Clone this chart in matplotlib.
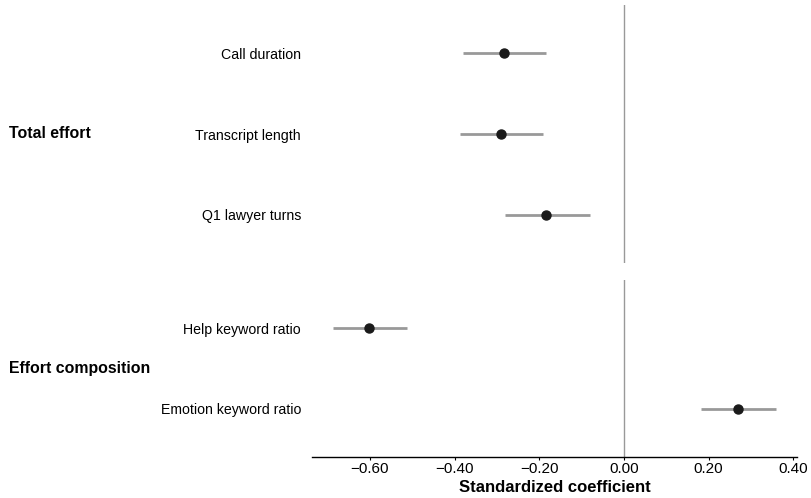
import matplotlib
matplotlib.use("Agg")
import matplotlib.pyplot as plt

plt.rcParams["font.family"] = ["Liberation Sans", "DejaVu Sans"]

GROUPS = ["Total effort", "Effort composition"]
TOTAL_LABELS = ["Call duration", "Transcript length", "Q1 lawyer turns"]
TOTAL_EST = [-0.283, -0.291, -0.183]
TOTAL_LO = [-0.380, -0.387, -0.281]
TOTAL_HI = [-0.184, -0.191, -0.081]
COMP_LABELS = ["Help keyword ratio", "Emotion keyword ratio"]
COMP_EST = [-0.602, 0.269]
COMP_LO = [-0.687, 0.182]
COMP_HI = [-0.513, 0.359]
XTICKS = [-0.6, -0.4, -0.2, 0.0, 0.2, 0.4]

fig = plt.figure(figsize=(8.11, 4.98), dpi=100)
left, right = 312 / 811, 797 / 811
ax_top = fig.add_axes([left, 1 - 263 / 498, right - left, 258 / 498])
ax_bot = fig.add_axes([left, 1 - 457 / 498, right - left, 177 / 498])


def draw_panel(ax, labels, est, lo, hi, group):
    n = len(labels)
    ys = list(range(n, 0, -1))
    ax.axvline(0, color="#999999", linewidth=1.0, zorder=1)
    ax.hlines(ys, lo, hi, color="#999999", linewidth=2.0, zorder=2)
    ax.plot(est, ys, "o", color="#1a1a1a", markersize=6.5, zorder=3)
    ax.set_ylim(0.4, n + 0.6)
    ax.set_xlim(-0.737, 0.409)
    ax.set_yticks(ys)
    ax.set_yticklabels(labels, fontsize=10.2)
    ax.tick_params(axis="y", length=0, pad=8)
    for side in ["top", "right", "left"]:
        ax.spines[side].set_visible(False)
    pos = ax.get_position()
    ax.text(9 / 811, (pos.y0 + pos.y1) / 2, group,
            transform=fig.transFigure, fontsize=11.4, fontweight="bold",
            ha="left", va="center")


draw_panel(ax_top, TOTAL_LABELS, TOTAL_EST, TOTAL_LO, TOTAL_HI, GROUPS[0])
draw_panel(ax_bot, COMP_LABELS, COMP_EST, COMP_LO, COMP_HI, GROUPS[1])

ax_top.spines["bottom"].set_visible(False)
ax_top.set_xticks([])

ax_bot.spines["bottom"].set_linewidth(1.0)
ax_bot.set_xticks(XTICKS)
ax_bot.set_xticklabels([f"{v:.2f}".replace("-", "\u2212") for v in XTICKS],
                       fontsize=11)
ax_bot.tick_params(axis="x", length=2.5, pad=1)
ax_bot.set_xlabel("Standardized coefficient", fontsize=12, fontweight="bold",
                  labelpad=3)

fig.savefig("out.png", dpi=100)
